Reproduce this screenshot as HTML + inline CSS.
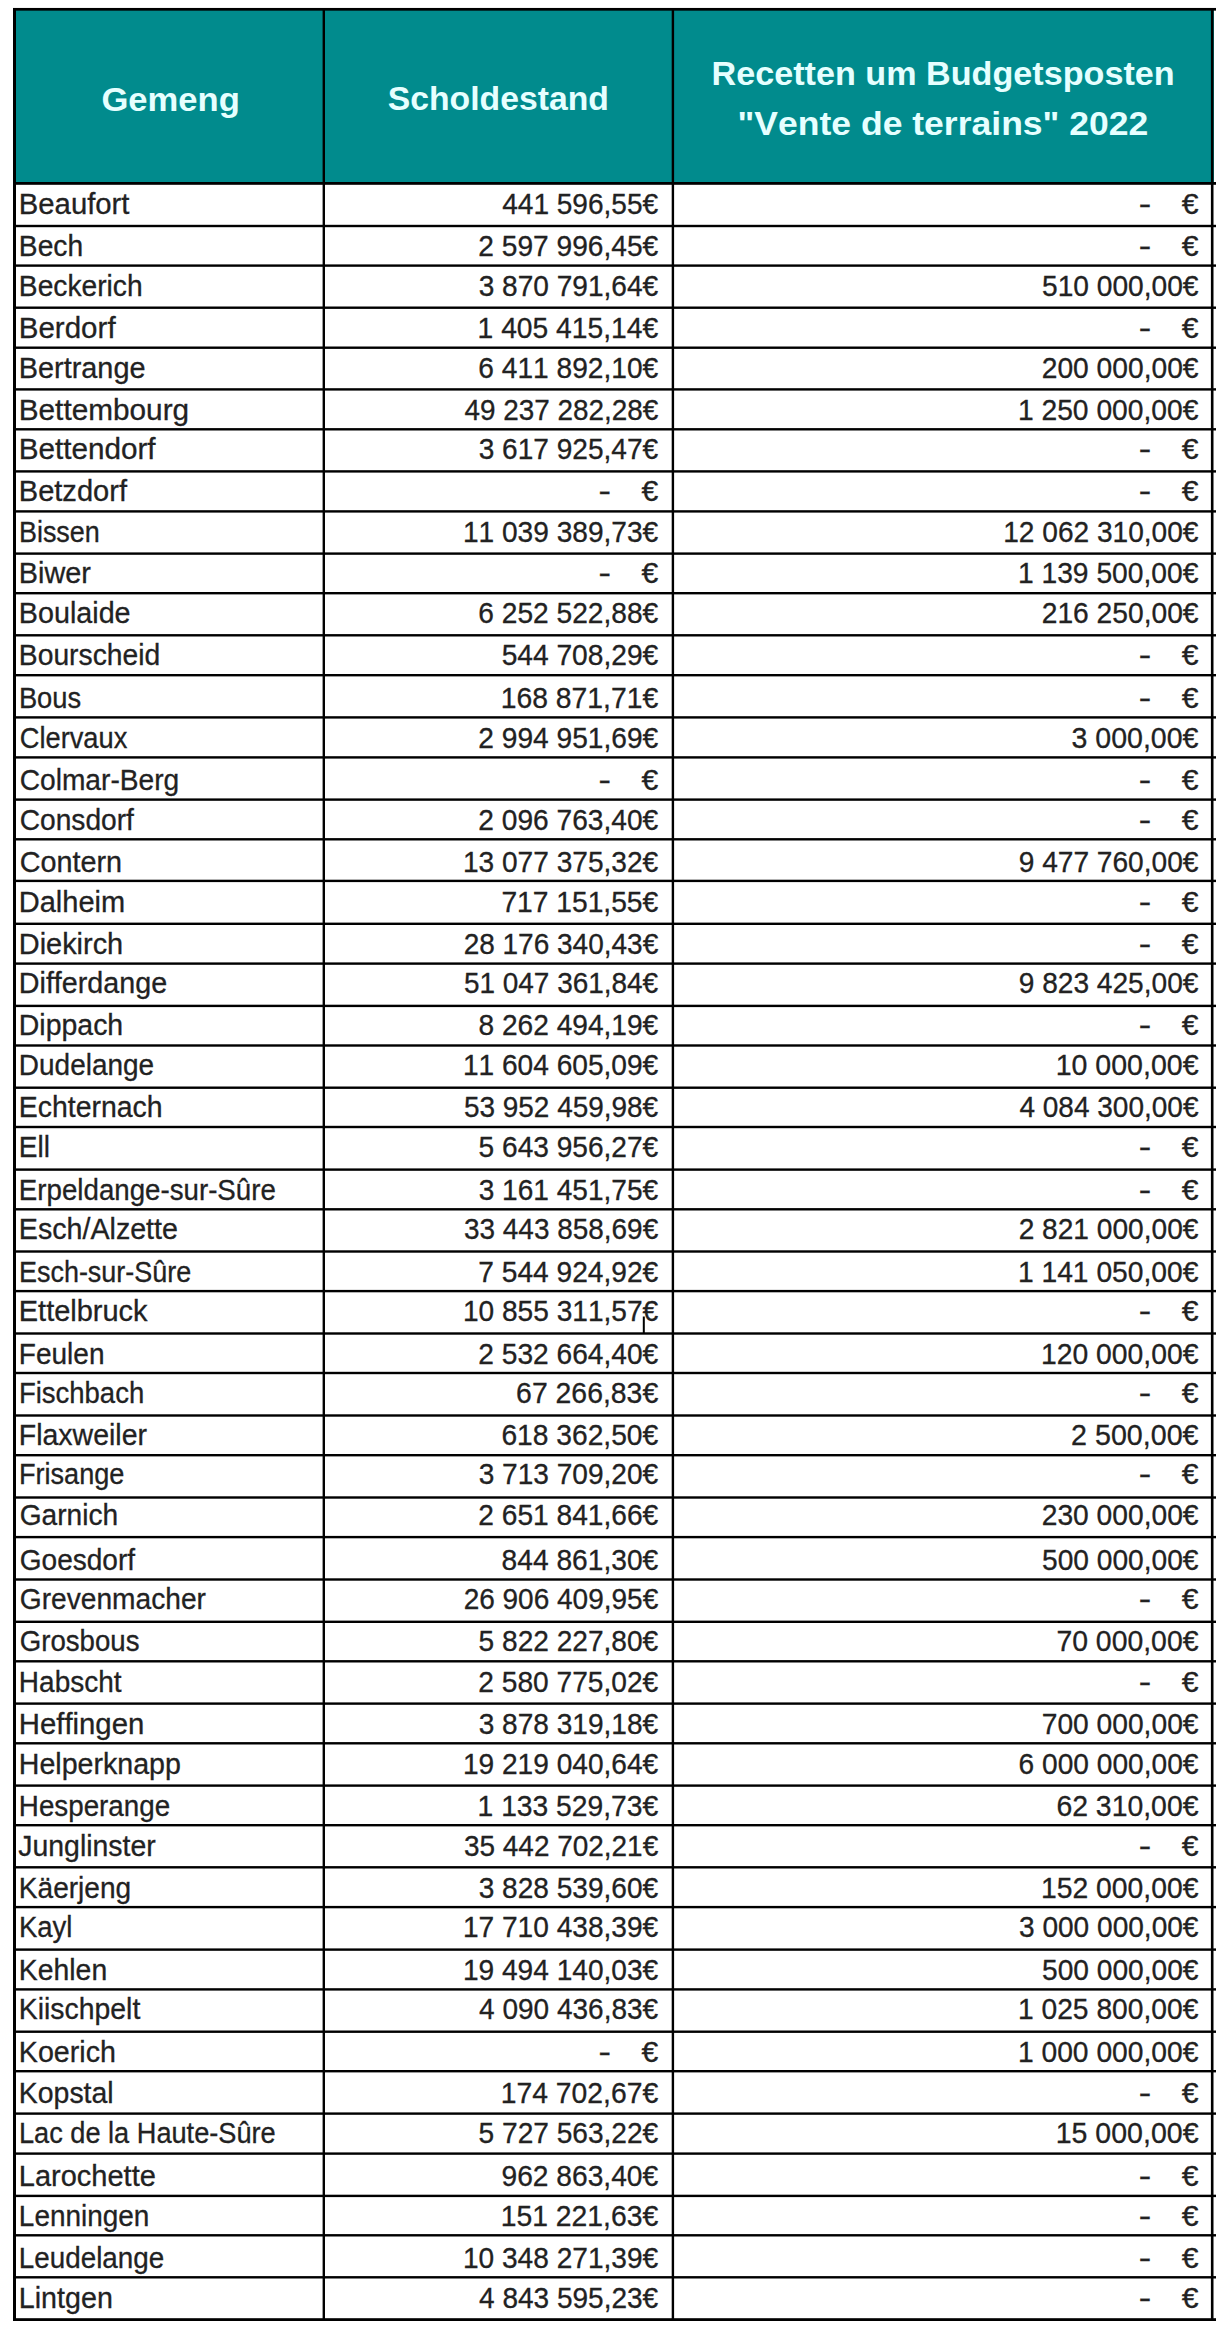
<!DOCTYPE html><html><head><meta charset="utf-8"><title>Gemeng</title><style>html,body{margin:0;padding:0;background:#fff;}svg{display:block;font-kerning:none;}text{font-family:"Liberation Sans",sans-serif;white-space:pre;}.b{font-size:29.00px;fill:#222222;stroke:#222;stroke-width:0.3px;}.h{font-size:34.00px;font-weight:bold;fill:#e6ffff;}</style></head><body>
<svg width="1224" height="2332" viewBox="0 0 1224 2332">
<rect x="13" y="8" width="1201" height="176" fill="#018b8d"/>
<text class="h" transform="matrix(1.0184 0 0 1 101.38 110.70)">Gemeng</text>
<text class="h" transform="matrix(0.9927 0 0 1 387.73 110.00)">Scholdestand</text>
<text class="h" transform="matrix(1.0049 0 0 1 711.51 84.60)">Recetten um Budgetsposten</text>
<text class="h" transform="matrix(1.0454 0 0 1 737.46 134.60)">&quot;Vente de terrains&quot; 2022</text>
<text class="b" transform="matrix(1.0108 0 0 1 18.75 213.70)">Beaufort</text>
<text class="b" transform="matrix(0.9676 0 0 1 502.20 213.70)">441 596,55€</text>
<text class="b" transform="matrix(1.2872 0 0 1 1138.83 213.70)">-</text>
<text class="b" transform="matrix(1.0386 0 0 1 1181.82 213.70)">€</text>
<text class="b" transform="matrix(0.9736 0 0 1 18.83 256.40)">Bech</text>
<text class="b" transform="matrix(0.9702 0 0 1 478.33 256.40)">2 597 996,45€</text>
<text class="b" transform="matrix(1.2872 0 0 1 1138.83 256.40)">-</text>
<text class="b" transform="matrix(1.0386 0 0 1 1181.82 256.40)">€</text>
<text class="b" transform="matrix(0.9727 0 0 1 18.83 295.90)">Beckerich</text>
<text class="b" transform="matrix(0.9683 0 0 1 478.68 295.90)">3 870 791,64€</text>
<text class="b" transform="matrix(0.9706 0 0 1 1042.02 295.90)">510 000,00€</text>
<text class="b" transform="matrix(1.0187 0 0 1 18.73 338.10)">Berdorf</text>
<text class="b" transform="matrix(0.9741 0 0 1 477.59 338.10)">1 405 415,14€</text>
<text class="b" transform="matrix(1.2872 0 0 1 1138.83 338.10)">-</text>
<text class="b" transform="matrix(1.0386 0 0 1 1181.82 338.10)">€</text>
<text class="b" transform="matrix(0.9952 0 0 1 18.78 377.90)">Bertrange</text>
<text class="b" transform="matrix(0.9702 0 0 1 478.32 377.90)">6 411 892,10€</text>
<text class="b" transform="matrix(0.9724 0 0 1 1041.73 377.90)">200 000,00€</text>
<text class="b" transform="matrix(1.0266 0 0 1 18.71 419.70)">Bettembourg</text>
<text class="b" transform="matrix(0.9616 0 0 1 464.40 419.70)">49 237 282,28€</text>
<text class="b" transform="matrix(0.9741 0 0 1 1017.89 419.70)">1 250 000,00€</text>
<text class="b" transform="matrix(1.0229 0 0 1 18.72 459.00)">Bettendorf</text>
<text class="b" transform="matrix(0.9683 0 0 1 478.68 459.00)">3 617 925,47€</text>
<text class="b" transform="matrix(1.2872 0 0 1 1138.83 459.00)">-</text>
<text class="b" transform="matrix(1.0386 0 0 1 1181.82 459.00)">€</text>
<text class="b" transform="matrix(1.0022 0 0 1 18.77 501.40)">Betzdorf</text>
<text class="b" transform="matrix(1.2872 0 0 1 598.53 501.40)">-</text>
<text class="b" transform="matrix(1.0386 0 0 1 641.52 501.40)">€</text>
<text class="b" transform="matrix(1.2872 0 0 1 1138.83 501.40)">-</text>
<text class="b" transform="matrix(1.0386 0 0 1 1181.82 501.40)">€</text>
<text class="b" transform="matrix(0.9292 0 0 1 18.93 541.50)">Bissen</text>
<text class="b" transform="matrix(0.9691 0 0 1 462.90 541.50)">11 039 389,73€</text>
<text class="b" transform="matrix(0.9691 0 0 1 1003.20 541.50)">12 062 310,00€</text>
<text class="b" transform="matrix(0.9949 0 0 1 18.78 583.30)">Biwer</text>
<text class="b" transform="matrix(1.2872 0 0 1 598.53 583.30)">-</text>
<text class="b" transform="matrix(1.0386 0 0 1 641.52 583.30)">€</text>
<text class="b" transform="matrix(0.9741 0 0 1 1017.89 583.30)">1 139 500,00€</text>
<text class="b" transform="matrix(0.9908 0 0 1 18.79 623.40)">Boulaide</text>
<text class="b" transform="matrix(0.9702 0 0 1 478.32 623.40)">6 252 522,88€</text>
<text class="b" transform="matrix(0.9724 0 0 1 1041.73 623.40)">216 250,00€</text>
<text class="b" transform="matrix(0.9749 0 0 1 18.83 665.20)">Bourscheid</text>
<text class="b" transform="matrix(0.9706 0 0 1 501.72 665.20)">544 708,29€</text>
<text class="b" transform="matrix(1.2872 0 0 1 1138.83 665.20)">-</text>
<text class="b" transform="matrix(1.0386 0 0 1 1181.82 665.20)">€</text>
<text class="b" transform="matrix(0.9417 0 0 1 18.90 708.30)">Bous</text>
<text class="b" transform="matrix(0.9770 0 0 1 500.69 708.30)">168 871,71€</text>
<text class="b" transform="matrix(1.2872 0 0 1 1138.83 708.30)">-</text>
<text class="b" transform="matrix(1.0386 0 0 1 1181.82 708.30)">€</text>
<text class="b" transform="matrix(0.9403 0 0 1 19.76 747.70)">Clervaux</text>
<text class="b" transform="matrix(0.9702 0 0 1 478.33 747.70)">2 994 951,69€</text>
<text class="b" transform="matrix(0.9851 0 0 1 1071.46 747.70)">3 000,00€</text>
<text class="b" transform="matrix(0.9707 0 0 1 19.72 790.10)">Colmar-Berg</text>
<text class="b" transform="matrix(1.2872 0 0 1 598.53 790.10)">-</text>
<text class="b" transform="matrix(1.0386 0 0 1 641.52 790.10)">€</text>
<text class="b" transform="matrix(1.2872 0 0 1 1138.83 790.10)">-</text>
<text class="b" transform="matrix(1.0386 0 0 1 1181.82 790.10)">€</text>
<text class="b" transform="matrix(0.9705 0 0 1 19.72 829.90)">Consdorf</text>
<text class="b" transform="matrix(0.9702 0 0 1 478.33 829.90)">2 096 763,40€</text>
<text class="b" transform="matrix(1.2872 0 0 1 1138.83 829.90)">-</text>
<text class="b" transform="matrix(1.0386 0 0 1 1181.82 829.90)">€</text>
<text class="b" transform="matrix(0.9929 0 0 1 19.69 872.30)">Contern</text>
<text class="b" transform="matrix(0.9691 0 0 1 462.90 872.30)">13 077 375,32€</text>
<text class="b" transform="matrix(0.9696 0 0 1 1018.73 872.30)">9 477 760,00€</text>
<text class="b" transform="matrix(1.0002 0 0 1 18.77 911.70)">Dalheim</text>
<text class="b" transform="matrix(0.9726 0 0 1 501.40 911.70)">717 151,55€</text>
<text class="b" transform="matrix(1.2872 0 0 1 1138.83 911.70)">-</text>
<text class="b" transform="matrix(1.0386 0 0 1 1181.82 911.70)">€</text>
<text class="b" transform="matrix(0.9972 0 0 1 18.78 953.50)">Diekirch</text>
<text class="b" transform="matrix(0.9654 0 0 1 463.64 953.50)">28 176 340,43€</text>
<text class="b" transform="matrix(1.2872 0 0 1 1138.83 953.50)">-</text>
<text class="b" transform="matrix(1.0386 0 0 1 1181.82 953.50)">€</text>
<text class="b" transform="matrix(0.9900 0 0 1 18.79 993.00)">Differdange</text>
<text class="b" transform="matrix(0.9640 0 0 1 463.93 993.00)">51 047 361,84€</text>
<text class="b" transform="matrix(0.9696 0 0 1 1018.73 993.00)">9 823 425,00€</text>
<text class="b" transform="matrix(0.9811 0 0 1 18.81 1035.40)">Dippach</text>
<text class="b" transform="matrix(0.9691 0 0 1 478.52 1035.40)">8 262 494,19€</text>
<text class="b" transform="matrix(1.2872 0 0 1 1138.83 1035.40)">-</text>
<text class="b" transform="matrix(1.0386 0 0 1 1181.82 1035.40)">€</text>
<text class="b" transform="matrix(0.9648 0 0 1 18.85 1075.00)">Dudelange</text>
<text class="b" transform="matrix(0.9691 0 0 1 462.90 1075.00)">11 604 605,09€</text>
<text class="b" transform="matrix(0.9844 0 0 1 1055.67 1075.00)">10 000,00€</text>
<text class="b" transform="matrix(0.9801 0 0 1 18.82 1117.30)">Echternach</text>
<text class="b" transform="matrix(0.9640 0 0 1 463.93 1117.30)">53 952 459,98€</text>
<text class="b" transform="matrix(0.9660 0 0 1 1019.40 1117.30)">4 084 300,00€</text>
<text class="b" transform="matrix(0.9678 0 0 1 18.84 1156.90)">Ell</text>
<text class="b" transform="matrix(0.9686 0 0 1 478.62 1156.90)">5 643 956,27€</text>
<text class="b" transform="matrix(1.2872 0 0 1 1138.83 1156.90)">-</text>
<text class="b" transform="matrix(1.0386 0 0 1 1181.82 1156.90)">€</text>
<text class="b" transform="matrix(0.9547 0 0 1 18.87 1199.60)">Erpeldange-sur-Sûre</text>
<text class="b" transform="matrix(0.9683 0 0 1 478.68 1199.60)">3 161 451,75€</text>
<text class="b" transform="matrix(1.2872 0 0 1 1138.83 1199.60)">-</text>
<text class="b" transform="matrix(1.0386 0 0 1 1181.82 1199.60)">€</text>
<text class="b" transform="matrix(0.9878 0 0 1 18.80 1239.40)">Esch/Alzette</text>
<text class="b" transform="matrix(0.9637 0 0 1 463.98 1239.40)">33 443 858,69€</text>
<text class="b" transform="matrix(0.9702 0 0 1 1018.63 1239.40)">2 821 000,00€</text>
<text class="b" transform="matrix(0.9299 0 0 1 18.93 1281.50)">Esch-sur-Sûre</text>
<text class="b" transform="matrix(0.9703 0 0 1 478.30 1281.50)">7 544 924,92€</text>
<text class="b" transform="matrix(0.9741 0 0 1 1017.89 1281.50)">1 141 050,00€</text>
<text class="b" transform="matrix(0.9992 0 0 1 18.77 1321.10)">Ettelbruck</text>
<text class="b" transform="matrix(0.9691 0 0 1 462.90 1321.10)">10 855 311,57€</text>
<text class="b" transform="matrix(1.2872 0 0 1 1138.83 1321.10)">-</text>
<text class="b" transform="matrix(1.0386 0 0 1 1181.82 1321.10)">€</text>
<text class="b" transform="matrix(0.9657 0 0 1 18.85 1363.50)">Feulen</text>
<text class="b" transform="matrix(0.9702 0 0 1 478.33 1363.50)">2 532 664,40€</text>
<text class="b" transform="matrix(0.9770 0 0 1 1040.99 1363.50)">120 000,00€</text>
<text class="b" transform="matrix(0.9485 0 0 1 18.89 1403.00)">Fischbach</text>
<text class="b" transform="matrix(0.9794 0 0 1 516.10 1403.00)">67 266,83€</text>
<text class="b" transform="matrix(1.2872 0 0 1 1138.83 1403.00)">-</text>
<text class="b" transform="matrix(1.0386 0 0 1 1181.82 1403.00)">€</text>
<text class="b" transform="matrix(0.9823 0 0 1 18.81 1445.10)">Flaxweiler</text>
<text class="b" transform="matrix(0.9725 0 0 1 501.41 1445.10)">618 362,50€</text>
<text class="b" transform="matrix(0.9879 0 0 1 1071.11 1445.10)">2 500,00€</text>
<text class="b" transform="matrix(0.9355 0 0 1 18.91 1484.40)">Frisange</text>
<text class="b" transform="matrix(0.9683 0 0 1 478.68 1484.40)">3 713 709,20€</text>
<text class="b" transform="matrix(1.2872 0 0 1 1138.83 1484.40)">-</text>
<text class="b" transform="matrix(1.0386 0 0 1 1181.82 1484.40)">€</text>
<text class="b" transform="matrix(0.9695 0 0 1 19.73 1525.40)">Garnich</text>
<text class="b" transform="matrix(0.9702 0 0 1 478.33 1525.40)">2 651 841,66€</text>
<text class="b" transform="matrix(0.9724 0 0 1 1041.73 1525.40)">230 000,00€</text>
<text class="b" transform="matrix(0.9673 0 0 1 19.73 1569.60)">Goesdorf</text>
<text class="b" transform="matrix(0.9712 0 0 1 501.62 1569.60)">844 861,30€</text>
<text class="b" transform="matrix(0.9706 0 0 1 1042.02 1569.60)">500 000,00€</text>
<text class="b" transform="matrix(0.9713 0 0 1 19.73 1609.40)">Grevenmacher</text>
<text class="b" transform="matrix(0.9654 0 0 1 463.64 1609.40)">26 906 409,95€</text>
<text class="b" transform="matrix(1.2872 0 0 1 1138.83 1609.40)">-</text>
<text class="b" transform="matrix(1.0386 0 0 1 1181.82 1609.40)">€</text>
<text class="b" transform="matrix(0.9529 0 0 1 19.75 1651.20)">Grosbous</text>
<text class="b" transform="matrix(0.9686 0 0 1 478.62 1651.20)">5 822 227,80€</text>
<text class="b" transform="matrix(0.9795 0 0 1 1056.39 1651.20)">70 000,00€</text>
<text class="b" transform="matrix(0.9655 0 0 1 18.85 1691.80)">Habscht</text>
<text class="b" transform="matrix(0.9702 0 0 1 478.33 1691.80)">2 580 775,02€</text>
<text class="b" transform="matrix(1.2872 0 0 1 1138.83 1691.80)">-</text>
<text class="b" transform="matrix(1.0386 0 0 1 1181.82 1691.80)">€</text>
<text class="b" transform="matrix(1.0118 0 0 1 18.74 1733.60)">Heffingen</text>
<text class="b" transform="matrix(0.9683 0 0 1 478.68 1733.60)">3 878 319,18€</text>
<text class="b" transform="matrix(0.9726 0 0 1 1041.70 1733.60)">700 000,00€</text>
<text class="b" transform="matrix(0.9861 0 0 1 18.80 1773.70)">Helperknapp</text>
<text class="b" transform="matrix(0.9691 0 0 1 462.90 1773.70)">19 219 040,64€</text>
<text class="b" transform="matrix(0.9702 0 0 1 1018.62 1773.70)">6 000 000,00€</text>
<text class="b" transform="matrix(0.9578 0 0 1 18.87 1815.60)">Hesperange</text>
<text class="b" transform="matrix(0.9741 0 0 1 477.59 1815.60)">1 133 529,73€</text>
<text class="b" transform="matrix(0.9794 0 0 1 1056.40 1815.60)">62 310,00€</text>
<text class="b" transform="matrix(0.9799 0 0 1 18.30 1855.70)">Junglinster</text>
<text class="b" transform="matrix(0.9637 0 0 1 463.98 1855.70)">35 442 702,21€</text>
<text class="b" transform="matrix(1.2872 0 0 1 1138.83 1855.70)">-</text>
<text class="b" transform="matrix(1.0386 0 0 1 1181.82 1855.70)">€</text>
<text class="b" transform="matrix(0.9676 0 0 1 18.84 1897.50)">Käerjeng</text>
<text class="b" transform="matrix(0.9683 0 0 1 478.68 1897.50)">3 828 539,60€</text>
<text class="b" transform="matrix(0.9770 0 0 1 1040.99 1897.50)">152 000,00€</text>
<text class="b" transform="matrix(0.9486 0 0 1 18.89 1937.40)">Kayl</text>
<text class="b" transform="matrix(0.9691 0 0 1 462.90 1937.40)">17 710 438,39€</text>
<text class="b" transform="matrix(0.9683 0 0 1 1018.98 1937.40)">3 000 000,00€</text>
<text class="b" transform="matrix(0.9787 0 0 1 18.82 1979.70)">Kehlen</text>
<text class="b" transform="matrix(0.9691 0 0 1 462.90 1979.70)">19 494 140,03€</text>
<text class="b" transform="matrix(0.9706 0 0 1 1042.02 1979.70)">500 000,00€</text>
<text class="b" transform="matrix(0.9793 0 0 1 18.82 2019.30)">Kiischpelt</text>
<text class="b" transform="matrix(0.9660 0 0 1 479.10 2019.30)">4 090 436,83€</text>
<text class="b" transform="matrix(0.9741 0 0 1 1017.89 2019.30)">1 025 800,00€</text>
<text class="b" transform="matrix(0.9876 0 0 1 18.80 2061.70)">Koerich</text>
<text class="b" transform="matrix(1.2872 0 0 1 598.53 2061.70)">-</text>
<text class="b" transform="matrix(1.0386 0 0 1 641.52 2061.70)">€</text>
<text class="b" transform="matrix(0.9741 0 0 1 1017.89 2061.70)">1 000 000,00€</text>
<text class="b" transform="matrix(0.9805 0 0 1 18.81 2102.50)">Kopstal</text>
<text class="b" transform="matrix(0.9770 0 0 1 500.69 2102.50)">174 702,67€</text>
<text class="b" transform="matrix(1.2872 0 0 1 1138.83 2102.50)">-</text>
<text class="b" transform="matrix(1.0386 0 0 1 1181.82 2102.50)">€</text>
<text class="b" transform="matrix(0.9376 0 0 1 18.91 2143.20)">Lac de la Haute-Sûre</text>
<text class="b" transform="matrix(0.9686 0 0 1 478.62 2143.20)">5 727 563,22€</text>
<text class="b" transform="matrix(0.9844 0 0 1 1055.67 2143.20)">15 000,00€</text>
<text class="b" transform="matrix(1.0002 0 0 1 18.77 2186.10)">Larochette</text>
<text class="b" transform="matrix(0.9718 0 0 1 501.52 2186.10)">962 863,40€</text>
<text class="b" transform="matrix(1.2872 0 0 1 1138.83 2186.10)">-</text>
<text class="b" transform="matrix(1.0386 0 0 1 1181.82 2186.10)">€</text>
<text class="b" transform="matrix(0.9642 0 0 1 18.85 2225.80)">Lenningen</text>
<text class="b" transform="matrix(0.9770 0 0 1 500.69 2225.80)">151 221,63€</text>
<text class="b" transform="matrix(1.2872 0 0 1 1138.83 2225.80)">-</text>
<text class="b" transform="matrix(1.0386 0 0 1 1181.82 2225.80)">€</text>
<text class="b" transform="matrix(0.9593 0 0 1 18.86 2268.20)">Leudelange</text>
<text class="b" transform="matrix(0.9691 0 0 1 462.90 2268.20)">10 348 271,39€</text>
<text class="b" transform="matrix(1.2872 0 0 1 1138.83 2268.20)">-</text>
<text class="b" transform="matrix(1.0386 0 0 1 1181.82 2268.20)">€</text>
<text class="b" transform="matrix(0.9893 0 0 1 18.80 2307.50)">Lintgen</text>
<text class="b" transform="matrix(0.9660 0 0 1 479.10 2307.50)">4 843 595,23€</text>
<text class="b" transform="matrix(1.2872 0 0 1 1138.83 2307.50)">-</text>
<text class="b" transform="matrix(1.0386 0 0 1 1181.82 2307.50)">€</text>
<rect x="13.00" y="7.95" width="1203.00" height="2.70" fill="#000"/>
<rect x="13.00" y="182.00" width="1203.00" height="2.80" fill="#000"/>
<rect x="13.00" y="224.80" width="1203.00" height="2.40" fill="#000"/>
<rect x="13.00" y="264.40" width="1203.00" height="2.40" fill="#000"/>
<rect x="13.00" y="306.50" width="1203.00" height="2.40" fill="#000"/>
<rect x="13.00" y="346.50" width="1203.00" height="2.40" fill="#000"/>
<rect x="13.00" y="388.20" width="1203.00" height="2.40" fill="#000"/>
<rect x="13.00" y="428.10" width="1203.00" height="2.40" fill="#000"/>
<rect x="13.00" y="470.20" width="1203.00" height="2.40" fill="#000"/>
<rect x="13.00" y="510.20" width="1203.00" height="2.40" fill="#000"/>
<rect x="13.00" y="552.40" width="1203.00" height="2.40" fill="#000"/>
<rect x="13.00" y="592.00" width="1203.00" height="2.40" fill="#000"/>
<rect x="13.00" y="634.10" width="1203.00" height="2.40" fill="#000"/>
<rect x="13.00" y="674.00" width="1203.00" height="2.40" fill="#000"/>
<rect x="13.00" y="716.20" width="1203.00" height="2.40" fill="#000"/>
<rect x="13.00" y="756.20" width="1203.00" height="2.40" fill="#000"/>
<rect x="13.00" y="798.40" width="1203.00" height="2.40" fill="#000"/>
<rect x="13.00" y="838.10" width="1203.00" height="2.40" fill="#000"/>
<rect x="13.00" y="879.70" width="1203.00" height="2.40" fill="#000"/>
<rect x="13.00" y="922.60" width="1203.00" height="2.40" fill="#000"/>
<rect x="13.00" y="962.40" width="1203.00" height="2.40" fill="#000"/>
<rect x="13.00" y="1004.70" width="1203.00" height="2.40" fill="#000"/>
<rect x="13.00" y="1044.30" width="1203.00" height="2.40" fill="#000"/>
<rect x="13.00" y="1086.50" width="1203.00" height="2.40" fill="#000"/>
<rect x="13.00" y="1125.80" width="1203.00" height="2.40" fill="#000"/>
<rect x="13.00" y="1168.40" width="1203.00" height="2.40" fill="#000"/>
<rect x="13.00" y="1208.10" width="1203.00" height="2.40" fill="#000"/>
<rect x="13.00" y="1250.30" width="1203.00" height="2.40" fill="#000"/>
<rect x="13.00" y="1289.90" width="1203.00" height="2.40" fill="#000"/>
<rect x="13.00" y="1332.30" width="1203.00" height="2.40" fill="#000"/>
<rect x="13.00" y="1371.80" width="1203.00" height="2.40" fill="#000"/>
<rect x="13.00" y="1414.30" width="1203.00" height="2.40" fill="#000"/>
<rect x="13.00" y="1454.00" width="1203.00" height="2.40" fill="#000"/>
<rect x="13.00" y="1496.30" width="1203.00" height="2.40" fill="#000"/>
<rect x="13.00" y="1535.90" width="1203.00" height="2.40" fill="#000"/>
<rect x="13.00" y="1578.30" width="1203.00" height="2.40" fill="#000"/>
<rect x="13.00" y="1620.60" width="1203.00" height="2.40" fill="#000"/>
<rect x="13.00" y="1660.10" width="1203.00" height="2.40" fill="#000"/>
<rect x="13.00" y="1702.40" width="1203.00" height="2.40" fill="#000"/>
<rect x="13.00" y="1742.10" width="1203.00" height="2.40" fill="#000"/>
<rect x="13.00" y="1784.40" width="1203.00" height="2.40" fill="#000"/>
<rect x="13.00" y="1824.00" width="1203.00" height="2.40" fill="#000"/>
<rect x="13.00" y="1866.10" width="1203.00" height="2.40" fill="#000"/>
<rect x="13.00" y="1905.90" width="1203.00" height="2.40" fill="#000"/>
<rect x="13.00" y="1948.40" width="1203.00" height="2.40" fill="#000"/>
<rect x="13.00" y="1988.20" width="1203.00" height="2.40" fill="#000"/>
<rect x="13.00" y="2030.50" width="1203.00" height="2.40" fill="#000"/>
<rect x="13.00" y="2070.00" width="1203.00" height="2.40" fill="#000"/>
<rect x="13.00" y="2112.40" width="1203.00" height="2.40" fill="#000"/>
<rect x="13.00" y="2152.40" width="1203.00" height="2.40" fill="#000"/>
<rect x="13.00" y="2194.70" width="1203.00" height="2.40" fill="#000"/>
<rect x="13.00" y="2234.10" width="1203.00" height="2.40" fill="#000"/>
<rect x="13.00" y="2276.10" width="1203.00" height="2.40" fill="#000"/>
<rect x="13.00" y="2318.20" width="1203.00" height="2.80" fill="#000"/>
<rect x="13.00" y="8.00" width="3.00" height="2313.00" fill="#000"/>
<rect x="322.60" y="8.00" width="2.40" height="2313.00" fill="#000"/>
<rect x="671.70" y="8.00" width="2.40" height="2313.00" fill="#000"/>
<rect x="1210.90" y="8.00" width="2.60" height="2313.00" fill="#000"/>
<rect x="642.8" y="1316.5" width="2" height="16.5" fill="#000"/>
</svg></body></html>
